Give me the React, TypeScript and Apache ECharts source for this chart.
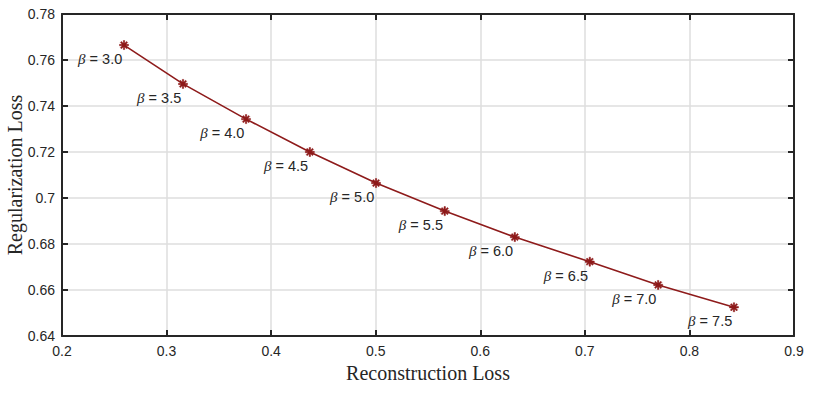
import React, { useEffect, useRef } from "react";
import * as echarts from "echarts";

const reconLoss = [0.2593, 0.3157, 0.376, 0.437, 0.5003, 0.566, 0.633, 0.7047, 0.7701, 0.8426];
const regLoss = [0.7665, 0.7496, 0.7343, 0.72, 0.7065, 0.6943, 0.683, 0.6723, 0.6622, 0.6525];
const betas = ["3.0", "3.5", "4.0", "4.5", "5.0", "5.5", "6.0", "6.5", "7.0", "7.5"];

const xMin = 0.2, xMax = 0.9, xStep = 0.1;
const yMin = 0.64, yMax = 0.78, yStep = 0.02;

const ASTERISK =
  "path://M-0.8,-5 L0.8,-5 L0.8,5 L-0.8,5 Z M-5,-0.8 L5,-0.8 L5,0.8 L-5,0.8 Z " +
  "M-2.93,-4.07 L4.07,2.93 L2.93,4.07 L-4.07,-2.93 Z M2.93,-4.07 L4.07,-2.93 L-2.93,4.07 L-4.07,2.93 Z";

const AX = "#262626";
const LINE = "#8E1B1B";

export default function App() {
  const ref = useRef<HTMLDivElement>(null);
  useEffect(() => {
    const chart = echarts.init(ref.current!, null, { renderer: "svg" });
    const data = reconLoss.map((x, i) => [x, regLoss[i], betas[i]]);
    const common = {
      type: "value" as const,
      axisLine: { show: true, lineStyle: { color: AX, width: 2 } },
      axisTick: { show: true, inside: true, length: 6, lineStyle: { color: AX, width: 2 } },
    };
    chart.setOption({
      animation: false,
      backgroundColor: "#ffffff",
      grid: { left: 62, top: 14, right: 28, bottom: 60, containLabel: false, outerBoundsMode: "none" },
      xAxis: [
        {
          ...common,
          min: xMin, max: xMax, interval: xStep,
          position: "bottom",
          name: "Reconstruction Loss",
          nameLocation: "middle",
          nameGap: 27,
          nameTextStyle: { fontFamily: "Liberation Serif", fontSize: 20, color: AX },
          axisLabel: { color: AX, fontFamily: "Liberation Sans", fontSize: 14, margin: 8 },
          splitLine: { show: true, lineStyle: { color: "#dedede", width: 1.5 } },
        },
        {
          ...common,
          min: xMin, max: xMax, interval: xStep,
          position: "top",
          axisLabel: { show: false },
          splitLine: { show: false },
        },
      ],
      yAxis: [
        {
          ...common,
          min: yMin, max: yMax, interval: yStep,
          position: "left",
          name: "Regularization Loss",
          nameLocation: "middle",
          nameGap: 37,
          nameMoveOverlap: false,
          nameTextStyle: { fontFamily: "Liberation Serif", fontSize: 20, color: AX },
          axisLabel: { color: AX, fontFamily: "Liberation Sans", fontSize: 14, margin: 7 },
          splitLine: { show: true, lineStyle: { color: "#dedede", width: 1.5 } },
        },
        {
          ...common,
          min: yMin, max: yMax, interval: yStep,
          position: "right",
          axisLabel: { show: false },
          splitLine: { show: false },
        },
      ],
      series: [
        {
          type: "line",
          data,
          smooth: false,
          symbol: ASTERISK,
          symbolSize: 9,
          lineStyle: { color: LINE, width: 1.6 },
          itemStyle: { color: LINE, borderColor: LINE, borderWidth: 0.5 },
          label: {
            show: true,
            position: "left",
            distance: 0,
            offset: [3, 14],
            formatter: (p: any) => "{b|β} = " + p.value[2],
            color: AX,
            fontFamily: "Liberation Sans",
            fontSize: 14.5,
            rich: {
              b: { fontFamily: "Liberation Serif", fontStyle: "italic", fontSize: 15, color: AX },
            },
          },
        },
      ],
    });
    return () => chart.dispose();
  }, []);
  return (
    <div
      ref={ref}
      style={{ position: "fixed", left: 0, top: 0, width: 822, height: 396 }}
    />
  );
}
